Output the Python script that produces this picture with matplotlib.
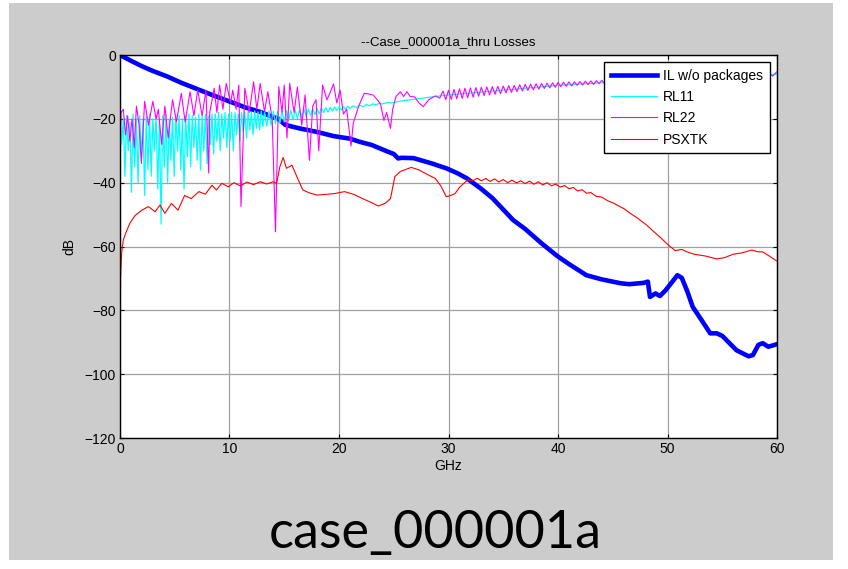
import matplotlib

matplotlib.use("Agg")
import matplotlib.pyplot as plt
from matplotlib.patches import Rectangle

# ---- data (GHz, dB) ----
il_f = [0, 1, 2, 3, 4.3, 5.6, 7.3, 8.4, 10.2, 11.5, 12.8, 14.0, 14.4, 14.8, 15.1, 16.4,
        18.0, 19.5, 21.0, 21.9, 23.0, 24.4, 25.0, 25.4, 25.7, 26.8, 27.6, 28.5, 29.8,
        30.8, 31.7, 32.9, 34.0, 35.9, 37.0, 38.5, 39.9, 41.0, 42.6, 44.0, 45.7, 46.5,
        47.8, 48.2, 48.4, 48.9, 49.3, 49.8, 50.4, 50.9, 51.3, 51.8, 52.3, 53.0, 53.9,
        54.5, 55.0, 56.3, 57.4, 57.8, 58.3, 58.7, 59.2, 60]
il_db = [0, -1.8, -3.5, -5.0, -6.7, -8.7, -11.0, -12.5, -14.8, -16.5, -17.8, -19.5,
         -19.8, -21.0, -21.9, -23.0, -24.1, -25.4, -26.2, -27.2, -28.2, -30.2, -31.0,
         -32.4, -32.2, -32.3, -33.1, -34.0, -35.5, -37.0, -38.7, -41.7, -44.8, -51.7,
         -54.5, -59.0, -62.9, -65.5, -69.0, -70.3, -71.5, -71.8, -71.4, -71.0, -75.8,
         -74.7, -75.5, -73.8, -71.2, -69.0, -69.8, -74.0, -78.9, -82.5, -87.2, -87.2,
         -88.0, -92.5, -94.4, -94.0, -90.8, -90.3, -91.4, -90.6]

rl11_f = [0, 0.15, 0.3, 0.45, 0.6, 0.75, 0.9, 1.05, 1.2, 1.35, 1.5, 1.65, 1.8, 1.95,
          2.1, 2.25, 2.4, 2.55, 2.7, 2.85, 3.0, 3.15, 3.3, 3.45, 3.6, 3.75, 3.9, 4.05,
          4.2, 4.35, 4.5, 4.65, 4.8, 4.95, 5.1, 5.25, 5.4, 5.55, 5.7, 5.85, 6.0, 6.15,
          6.3, 6.45, 6.6, 6.75, 6.9, 7.05, 7.2, 7.35, 7.5, 7.65, 7.8, 7.95, 8.1, 8.25,
          8.4, 8.55, 8.7, 8.85, 9.0, 9.15, 9.3, 9.45, 9.6, 9.75, 9.9, 10.05, 10.2,
          10.35, 10.5, 10.65, 10.8, 10.95, 11.1, 11.25, 11.4, 11.55, 11.7, 11.85, 12.0,
          12.15, 12.3, 12.45, 12.6, 12.75, 12.9, 13.05,
          13.2, 13.4, 13.6, 13.8, 14.0, 14.2, 14.4, 14.6, 14.8, 15.0, 15.2, 15.4, 15.6,
          15.8, 16.0, 16.2, 16.4, 16.6, 16.8, 17.0, 17.2, 17.4, 17.6, 17.8, 18.0, 18.2,
          18.4, 18.6, 18.8, 19.0, 19.2, 19.4, 19.6, 19.8, 20.0, 20.2, 20.4, 20.6, 20.8,
          21.0, 21.3, 21.6, 21.9, 22.2, 22.5, 22.8, 23.1, 23.4, 23.7, 24.0, 24.4, 24.8,
          25.5, 27, 28.5, 30, 32, 34, 36, 38, 40, 42, 44, 47, 50, 53, 56, 60]
rl11_db = [-20.4, -28, -20, -38, -19, -30, -21, -43, -18.5, -35, -20, -40, -19, -32,
           -20.5, -44, -19, -36, -18.5, -38, -20, -30, -19, -42, -20, -53, -19, -35,
           -18.5, -40, -20, -33, -19.5, -38, -18.5, -30, -19, -36, -20, -42, -19, -32,
           -18.5, -35, -19, -29, -19.5, -33, -18.5, -36, -19, -30, -18.5, -34, -19, -28,
           -18.5, -31, -18.5, -27, -18, -30, -18.5, -26, -18, -29, -18.5, -27, -18,
           -30, -18, -25, -18.5, -27, -18, -24, -18, -26, -17.8, -23.5, -18,
           -25, -17.5, -23, -17.8, -23.5, -17.5, -22.5,
           -17.6, -22.3, -17.5, -22, -17.6, -21.6, -17.5, -21.3, -17.4, -21, -17.4, -20.6, -17.3,
           -20.3, -17.2, -19.9, -17.1, -19.6, -17, -19.3, -16.9, -19, -16.8, -18.7, -16.7, -18.4,
           -16.6, -18.1, -16.5, -17.9, -16.4, -17.6, -16.3, -17.4, -16.2, -17.2, -16.1, -17.0, -16.0,
           -16.8, -15.9, -16.5, -15.7, -16.2, -15.5, -15.9, -15.3, -15.6, -15.1, -15.3, -14.9, -15.0,
           -14.5, -13.8, -13.1, -12.5, -11.9, -11.3, -10.7, -10.1, -9.5, -9.1, -8.7, -8.1, -7.6,
           -7.1, -6.7, -6.0]

rl22_f = [0, 0.1, 0.3, 0.5, 0.7, 0.9, 1.1, 1.3, 1.5, 1.75, 1.95, 2.25, 2.6, 3.0, 3.3, 3.5,
          3.8, 4.1, 4.4, 4.8, 5.15, 5.6, 5.95, 6.4, 6.75, 7.1, 7.5, 7.85, 8.1, 8.2, 8.6,
          8.85, 9.1, 9.4, 9.7, 10.1, 10.3, 10.6, 10.85, 11.05, 11.4, 11.8, 12.2, 12.5,
          12.8, 13.2, 13.5, 13.9, 14.2, 14.5, 14.8, 15.0, 15.25, 15.5, 15.9, 16.2, 16.6,
          16.9, 17.3, 17.6, 17.9, 18.15, 18.5, 18.9, 19.1, 19.5, 19.8, 20.1, 20.4, 20.7,
          21.1, 21.3, 21.8, 22.3, 22.7, 23.1, 23.5, 23.8, 24.1, 24.35, 24.7, 24.9, 25.2,
          25.6, 25.9, 26.2, 26.5, 26.9, 27.3, 27.7, 28.2, 28.8, 29.2,
          29.5, 29.75, 30.0, 30.25, 30.5, 30.75, 31.0, 31.25, 31.5, 31.75, 32.0, 32.25,
          32.5, 32.75, 33.0, 33.25, 33.5, 33.75, 34.0, 34.25, 34.5, 34.75, 35.0, 35.25,
          35.5, 35.75, 36.0, 36.25, 36.5, 36.75, 37.0, 37.25, 37.5, 37.75, 38.0, 38.25,
          38.5, 38.75, 39.0, 39.25, 39.5, 39.75, 40.0, 40.25, 40.5, 40.75, 41.0, 41.25,
          41.5, 41.75, 42.0, 42.25, 42.5, 42.75, 43.0, 43.25, 43.5, 43.75, 44.0, 44.25,
          45, 50, 55, 59.3, 59.6, 60]
rl22_db = [-32, -18, -17, -25, -19, -27, -20, -29, -16, -22, -34, -14.5, -22, -14.5, -20,
           -17, -28, -16, -26, -14, -21, -12, -21, -11.5, -19, -11, -19, -11, -37, -18,
           -10.4, -18, -9.4, -17, -8.9, -15, -11, -17, -9.4, -47.5, -10.4, -18, -8.4, -17,
           -8.9, -17.8, -11.5, -20, -55.4, -9.9, -18, -9.4, -26, -8.9, -18, -10, -22,
           -12.5, -33, -16, -14, -30, -9.4, -14, -12.5, -9.1, -15, -11, -18.5, -17,
           -28.5, -21.4, -16, -12, -12.2, -12.5, -14, -15.5, -20.5, -18, -23, -17, -13,
           -11.5, -13, -11.5, -13, -13.1, -15, -16.2, -14, -12.8, -13.5,
           -11.3, -14.0, -11.0, -13.9, -10.8, -13.7, -10.6, -13.6, -10.4, -13.4, -10.3, -13.2,
           -10.2, -12.9, -10.1, -12.7, -10.0, -12.5, -9.9, -12.3, -9.8, -12.1, -9.7, -11.9,
           -9.6, -11.7, -9.5, -11.5, -9.3, -11.3, -9.2, -11.1, -9.1, -10.9, -9.0, -10.7,
           -8.9, -10.5, -8.8, -10.3, -8.7, -10.1, -8.6, -9.9, -8.5, -9.8, -8.4, -9.7,
           -8.4, -9.5, -8.3, -9.4, -8.2, -9.3, -8.1, -9.2, -8.0, -9.0, -7.9, -8.9,
           -8.0, -7.0, -6.5, -5.8, -6.6, -5.2]

psx_f = [0, 0.05, 0.15, 0.3, 0.5, 0.9, 1.4, 2.0, 2.6, 3.2, 3.65, 4.1, 4.7, 5.3, 5.9, 6.5,
         7.2, 7.8, 8.4, 8.8, 9.3, 9.9, 10.4, 11.0, 11.6, 12.2, 12.8, 13.4, 14.0, 14.3,
         14.6, 14.9, 15.2, 15.7, 16.2, 16.7, 17.3, 18.0, 19.0, 19.6, 20.5, 21.3, 22.1,
         23.0, 23.6, 24.2, 24.7, 25.1, 25.6, 26.6, 27.3, 27.9, 28.8, 29.3, 29.8, 30.2,
         30.6, 31.0, 31.4, 31.8, 32.2, 32.6, 33.0, 33.4, 33.8, 34.2, 34.6, 35.0, 35.4,
         35.8, 36.2, 36.6, 37.0, 37.4, 37.8, 38.2, 38.6, 39.0, 39.4, 39.8, 40.2, 40.6,
         41.0, 41.4, 41.8, 42.2, 42.6, 43.0, 43.5, 44.0, 44.5, 45.0, 45.5, 46.0, 46.6,
         47.3, 48.1, 48.7, 49.3, 50.0, 50.7, 51.3, 51.8, 52.4, 53.5, 54.5, 55.2, 56.0,
         56.8, 57.3, 57.7, 58.2, 58.7, 59.3, 60]
psx_db = [-102, -70, -62, -58, -56, -52.7, -50.2, -48.6, -47.5, -49.1, -47, -49.6, -46.5,
          -48.6, -44, -45, -42.8, -43.6, -40.8, -42.3, -40.2, -41.3, -40.0, -41.0, -39.8,
          -40.6, -39.7, -40.4, -39.7, -40.2, -35, -32.1, -35.5, -34.5, -38.5, -42.3,
          -43.2, -43.9, -43.6, -43.4, -42.8, -43.6, -44.9, -46.3, -47.3, -46.5, -45.0,
          -38.1, -36.5, -35.2, -36.0, -37.1, -38.7, -41.0, -44.4, -44.0, -43.4, -41.5,
          -40.2, -39.0, -39.5, -38.6, -39.4, -38.7, -39.6, -38.8, -39.8, -39.0, -40.0,
          -39.2, -40.1, -39.4, -40.3, -39.5, -40.5, -39.7, -40.7, -40.0, -41.0, -40.4,
          -41.4, -40.9, -41.9, -41.5, -42.6, -42.2, -43.3, -43.1, -44.3, -44.5, -45.6,
          -46.3, -47.2, -48.1, -49.6, -51.2, -53.3, -55.2, -57, -59.3, -61.3, -60.9,
          -61.7, -62.4, -63.0, -63.9, -63.5, -62.4, -62.0, -61.5, -61.1, -61.6, -61.7,
          -63.0, -64.6]

x_ticks = [0, 10, 20, 30, 40, 50, 60]
y_ticks = [0, -20, -40, -60, -80, -100, -120]

plt.rcParams["font.family"] = ["Liberation Sans", "DejaVu Sans"]

fig = plt.figure(figsize=(8.48, 5.69), dpi=100)
fig.patch.set_facecolor("white")
fig.patches.append(Rectangle((0.0106, 0.0158), 0.9717, 0.979, transform=fig.transFigure,
                             facecolor="#cccccc", edgecolor="none", zorder=-10))

ax = fig.add_axes([0.1415, 0.2302, 0.7748, 0.6731])
ax.set_facecolor("white")
ax.plot(il_f, il_db, color="#0000ff", lw=3.3, label="IL w/o packages")
ax.plot(rl11_f, rl11_db, color="#00ffff", lw=0.9, label="RL11")
ax.plot(rl22_f, rl22_db, color="#ff00ff", lw=0.8, label="RL22")
ax.plot(psx_f, psx_db, color="#ff0000", lw=0.8, label="PSXTK")

ax.set_xlim(0, 60)
ax.set_ylim(-120, 0)
ax.set_xticks(x_ticks)
ax.set_yticks(y_ticks)
ax.grid(True, color="#a0a0a0", lw=0.9)
ax.tick_params(direction="in", length=3, top=True, right=True, labelsize=10,
               colors="black", pad=3)
for s in ax.spines.values():
    s.set_linewidth(1.0)
ax.set_title("--Case_000001a_thru Losses", fontsize=9.5, pad=7)
ax.set_xlabel("GHz", fontsize=10, labelpad=2)
ax.set_ylabel("dB", fontsize=10, labelpad=6)

leg = ax.legend(loc="upper right", bbox_to_anchor=(0.989, 0.982), borderaxespad=0,
                fontsize=10, frameon=True, fancybox=False, handlelength=3.3,
                handletextpad=0.45, labelspacing=0.52, borderpad=0.5)
leg.get_frame().set_edgecolor("black")
leg.get_frame().set_linewidth(1.0)
leg.get_frame().set_alpha(1)

fig.text(0.513, 0.063, "case_000001a", fontsize=37.5, family=["Lato", "DejaVu Sans"],
         ha="center", va="center", color="black")

fig.savefig("out.png", dpi=100)
